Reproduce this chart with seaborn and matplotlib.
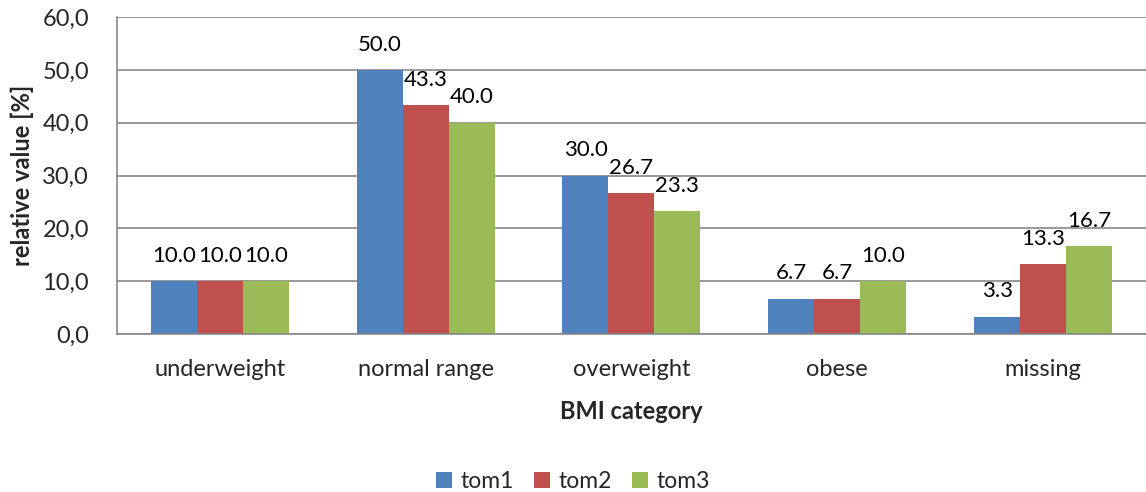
import matplotlib
matplotlib.use("Agg")
import matplotlib.pyplot as plt
import seaborn as sns
import pandas as pd
from matplotlib.ticker import FixedLocator, FuncFormatter

categories = ["underweight", "normal range", "overweight", "obese", "missing"]
series = ["tom1", "tom2", "tom3"]
tom1 = [10.0, 50.0, 30.0, 6.7, 3.3]
tom2 = [10.0, 43.3, 26.7, 6.7, 13.3]
tom3 = [10.0, 40.0, 23.3, 10.0, 16.7]
colors = ["#4F81BD", "#C0504D", "#9BBB59"]

rows = []
for s, vals in zip(series, [tom1, tom2, tom3]):
    for c, v in zip(categories, vals):
        rows.append({"category": c, "series": s, "value": v})
df = pd.DataFrame(rows)

sns.set_style("white")
plt.rcParams["font.family"] = ["Lato", "DejaVu Sans"]
FS = 17

fig = plt.figure(figsize=(11.46, 4.92), dpi=100)
ax = fig.add_axes([0.102, 0.321, 0.898, 0.6444])

sns.barplot(data=df, x="category", y="value", hue="series", order=categories,
            hue_order=series, palette=colors, width=0.67, gap=0, ax=ax,
            saturation=1, edgecolor="none", linewidth=0, errorbar=None)

for cont in ax.containers:
    ax.bar_label(cont, fmt="%.1f", padding=11, fontsize=16, color="#000000")

ax.set_ylim(0, 60)
ax.set_xlim(-0.5, 4.5)
ax.set_yticks([0, 10, 20, 30, 40, 50, 60])
ax.yaxis.set_major_formatter(FuncFormatter(lambda v, p: f"{v:.1f}".replace(".", ",")))
ax.yaxis.grid(True, color="#878787", linewidth=1.2)
ax.set_axisbelow(True)
for sp in ["top", "right"]:
    ax.spines[sp].set_visible(False)
ax.spines["left"].set_color("#878787")
ax.spines["left"].set_linewidth(1.2)
ax.spines["bottom"].set_color("#878787")
ax.spines["bottom"].set_linewidth(1.2)

ax.tick_params(axis="y", length=8, width=1.2, color="#878787", labelsize=FS, pad=12)
ax.tick_params(axis="x", which="major", length=0, labelsize=FS, pad=18)
ax.xaxis.set_minor_locator(FixedLocator([-0.5, 0.5, 1.5, 2.5, 3.5, 4.5]))
ax.tick_params(axis="x", which="minor", length=7, width=1.2, color="#878787")

ax.set_xlabel("BMI category", fontsize=FS, fontweight="bold", labelpad=14)
ax.set_ylabel("relative value [%]", fontsize=FS, fontweight="bold", labelpad=6)

leg = ax.legend(loc="lower center", ncol=3, frameon=False, fontsize=16.5,
                handlelength=0.7, handleheight=0.7, handletextpad=0.35, columnspacing=0.9)
leg.set_bbox_to_anchor((0.5, -0.042), transform=fig.transFigure)

fig.savefig("out.png", dpi=100)
